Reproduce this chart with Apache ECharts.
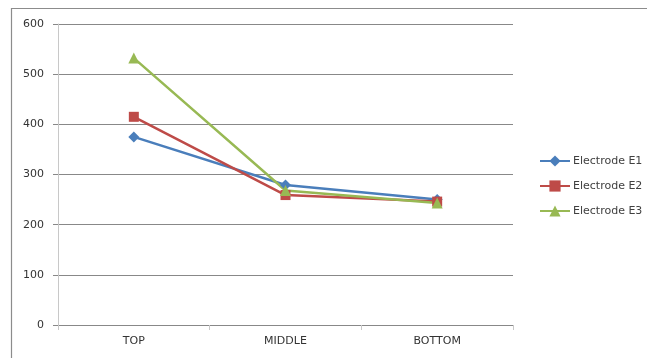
<!DOCTYPE html>
<html>
<head>
<meta charset="utf-8">
<script src="https://cdn.jsdelivr.net/npm/echarts@6/dist/echarts.min.js"></script>
<style>
  html, body { margin: 0; padding: 0; background: #fff; }
  #chart { width: 647px; height: 358px; }
</style>
</head>
<body>
<div id="chart"></div>
<script>
// Electrode readings by position
const categories = ['TOP', 'MIDDLE', 'BOTTOM'];
const electrodeE1 = [375, 279, 250];
const electrodeE2 = [415, 259, 246];
const electrodeE3 = [532, 268, 243];
const yTicks = { min: 0, max: 600, interval: 100 };

const chart = echarts.init(document.getElementById('chart'));
const font = 'DejaVu Sans, Verdana, sans-serif';

function line(name, data, color, symbol, size) {
  return {
    name, type: 'line', data,
    symbol, symbolSize: size,
    lineStyle: { color, width: 2.5 },
    itemStyle: { color },
    animation: false
  };
}

chart.setOption({
  animation: false,
  textStyle: { fontFamily: font },
  graphic: [{
    type: 'rect',
    shape: { x: 11.5, y: 8.5, width: 645, height: 400 },
    style: { fill: 'none', stroke: '#8c8c8c', lineWidth: 1.2 },
    silent: true
  }],
  grid: { left: 58, right: 134, top: 24, bottom: 33, containLabel: false },
  legend: {
    orient: 'vertical',
    left: 534, top: 148,
    itemGap: 9,
    itemWidth: 30, itemHeight: 14,
    textStyle: { fontSize: 11, lineHeight: 16, color: '#404040', fontFamily: font, padding: [0, 0, 0, -2] },
    data: ['Electrode E1', 'Electrode E2', 'Electrode E3']
  },
  xAxis: {
    type: 'category',
    data: categories,
    boundaryGap: true,
    axisLine: { lineStyle: { color: '#888', width: 1 } },
    axisTick: { show: true, length: 5, lineStyle: { color: '#c8c8c8' } },
    axisLabel: { color: '#333', fontSize: 11, margin: 11, fontFamily: font }
  },
  yAxis: {
    type: 'value',
    min: yTicks.min, max: yTicks.max, interval: yTicks.interval,
    axisLine: { show: true, lineStyle: { color: '#c8c8c8', width: 1 } },
    axisTick: { show: true, length: 5, lineStyle: { color: '#888' } },
    axisLabel: { color: '#333', fontSize: 11, margin: 14, fontFamily: font },
    splitLine: { lineStyle: { color: '#888', width: 1 } }
  },
  series: [
    line('Electrode E1', electrodeE1, '#4a7ebb', 'diamond', 11),
    line('Electrode E2', electrodeE2, '#be4b48', 'rect', 10),
    line('Electrode E3', electrodeE3, '#98b954', 'triangle', 11)
  ]
});
</script>
</body>
</html>
